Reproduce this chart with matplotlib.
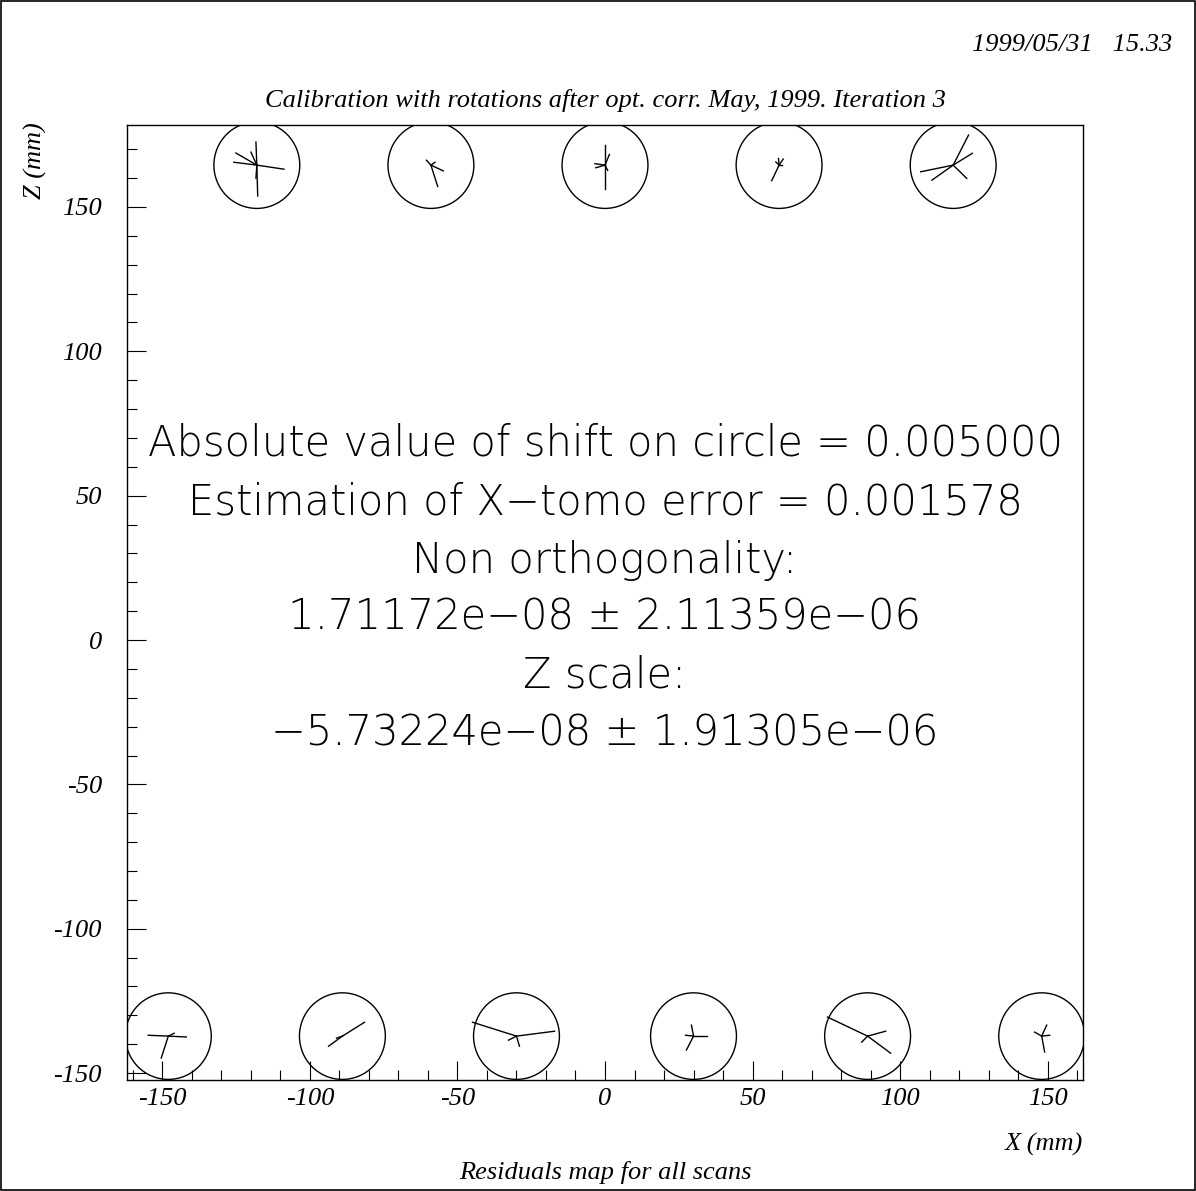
import numpy as np
import matplotlib
matplotlib.use('Agg')
import matplotlib.pyplot as plt
from matplotlib.ticker import MultipleLocator, FuncFormatter
from matplotlib.patches import Ellipse, Rectangle

# station positions (mm)
top_x = [-118, -59, 0, 59, 118]
top_z = 164.5
bot_x = [-148, -89, -30, 30, 89, 148]
bot_z = -137.2
radius = 14.7

# scaled residual vectors per station (dx, dz), drawn from the station centre
res_top = [
    [(-0.3, 8.0), (0.3, -10.7), (9.2, -1.4), (-7.8, 1.0), (-7.1, 4.2), (-2.0, 4.5), (-0.3, -4.5)],
    [(-1.5, 1.7), (4.2, -2.0), (2.3, -7.4), (1.4, 1.0)],
    [(0.0, 6.9), (0.0, -8.4), (-3.4, 0.5), (-3.1, -0.9), (1.5, 3.7), (0.9, -1.8)],
    [(-2.5, -5.4), (-0.2, 2.3), (1.4, 2.1), (-1.1, 1.1), (1.1, 0.0)],
    [(5.2, 10.4), (6.5, 4.1), (-11.0, -2.3), (-7.2, -5.2), (4.6, -4.6)],
]
res_bot = [
    [(-2.4, -7.6), (6.1, -0.3), (-6.8, 0.3), (2.0, 1.0)],
    [(-4.7, -3.5), (7.5, 4.8), (-2.0, -0.7)],
    [(-14.9, 4.8), (12.9, 1.7), (1.0, -3.5), (-2.7, -1.4)],
    [(-0.7, 3.8), (-2.4, -4.8), (4.7, 0.0), (-2.7, 0.3)],
    [(-13.6, 6.6), (7.8, -5.9), (6.1, 1.7), (-2.0, -2.1)],
    [(1.7, 3.8), (1.0, -5.5), (-2.4, 1.4), (2.7, 0.3)],
]

info_lines = [
    "Absolute value of shift on circle = 0.005000",
    "Estimation of X\u2212tomo error = 0.001578",
    "Non orthogonality:",
    "1.71172e\u221208 \u00b1 2.11359e\u221206",
    "Z scale:",
    "\u22125.73224e\u221208 \u00b1 1.91305e\u221206",
]
info_z = [68.2, 47.8, 27.7, 8.0, -12.1, -32.2]

serif = ['Liberation Serif', 'DejaVu Serif']
fs = 19

fig = plt.figure(figsize=(11.96, 11.91), dpi=100)
fig.patches.append(Rectangle((0.0005, 0.0005), 0.999, 0.999, transform=fig.transFigure,
                             fill=False, edgecolor='black', lw=1.2))
ax = fig.add_axes([127/1196, 111/1191, 956/1196, 955/1191])
ax.set_xlim(-162, 162)
ax.set_ylim(-152.4, 178.4)

def draw_station(x0, z0, vecs):
    ax.add_patch(Ellipse((x0, z0), 2*radius*0.99, 2*radius*1.02, fill=False,
                         edgecolor='black', lw=1.0))
    for dx, dz in vecs:
        ax.plot([x0, x0 + dx], [z0, z0 + dz], color='black', lw=1.0)

for x0, vecs in zip(top_x, res_top):
    draw_station(x0, top_z, vecs)
for x0, vecs in zip(bot_x, res_bot):
    draw_station(x0, bot_z, vecs)

for txt, z in zip(info_lines, info_z):
    ax.text(0, z, txt, ha='center', va='center', fontsize=30,
            family='DejaVu Sans', fontweight='light')

for s in ax.spines.values():
    s.set_linewidth(1.0)
hyphen = FuncFormatter(lambda v, p: '%d' % round(v))
ax.xaxis.set_major_locator(MultipleLocator(50))
ax.xaxis.set_minor_locator(MultipleLocator(10))
ax.yaxis.set_major_locator(MultipleLocator(50))
ax.yaxis.set_minor_locator(MultipleLocator(10))
ax.xaxis.set_major_formatter(hyphen)
ax.yaxis.set_major_formatter(hyphen)
ax.tick_params(which='both', direction='in', top=False, right=False, width=0.8)
ax.tick_params(which='major', length=14)
ax.tick_params(which='minor', length=7)
ax.tick_params(axis='x', which='major', pad=6)
ax.tick_params(axis='y', which='major', pad=18)
for lab in ax.get_xticklabels() + ax.get_yticklabels():
    lab.set_family(serif)
    lab.set_style('italic')
    lab.set_fontsize(fs)

ax.text(1.0, -0.055, "X (mm)", transform=ax.transAxes, ha='right', va='top',
        family=serif, style='italic', fontsize=fs)
fig.text(35/1196, 1 - 122/1191, "Z (mm)", rotation=90, ha='center', va='top',
         family=serif, style='italic', fontsize=fs)
fig.text(605/1196, 1 - 100/1191, "Calibration with rotations after opt. corr. May, 1999. Iteration 3",
         ha='center', va='center', family=serif, style='italic', fontsize=fs)
fig.text(1172/1196, 1 - 45/1191, "1999/05/31   15.33", ha='right', va='center',
         family=serif, style='italic', fontsize=fs)
fig.text(605/1196, 1 - 1172/1191, "Residuals map for all scans", ha='center', va='center',
         family=serif, style='italic', fontsize=fs)

fig.savefig('out.png', dpi=100)
